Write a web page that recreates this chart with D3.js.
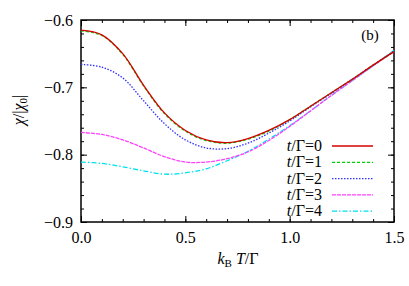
<!DOCTYPE html>
<meta charset="utf-8">
<html>
<script src="https://d3js.org/d3.v7.min.js"></script>
<style>
    body { margin: 0; background: white; }
    text { font-family: "Liberation Serif", "Times New Roman", serif; }
</style>
<body>
<div id="chart"></div>
<script>
    // kBT/Gamma sample points
    var temps = [0.0, 0.1, 0.2, 0.3, 0.4, 0.5, 0.6, 0.7, 0.8, 0.9, 1.0, 1.1, 1.2, 1.3, 1.4, 1.5];
    // chi/|chi0| for each t/Gamma
    var t0 = [-0.615, -0.622, -0.650, -0.697, -0.738, -0.764, -0.778, -0.782, -0.776, -0.764, -0.748, -0.728, -0.708, -0.688, -0.667, -0.647];
    var t1 = [-0.616, -0.623, -0.651, -0.698, -0.739, -0.765, -0.779, -0.783, -0.777, -0.765, -0.748, -0.728, -0.708, -0.688, -0.667, -0.647];
    var t2 = [-0.666, -0.670, -0.686, -0.720, -0.754, -0.778, -0.790, -0.791, -0.783, -0.768, -0.750, -0.729, -0.709, -0.688, -0.667, -0.646];
    var t3 = [-0.767, -0.770, -0.778, -0.790, -0.803, -0.811, -0.811, -0.806, -0.796, -0.779, -0.758, -0.735, -0.712, -0.690, -0.668, -0.647];
    var t4 = [-0.811, -0.813, -0.818, -0.824, -0.829, -0.827, -0.821, -0.809, -0.795, -0.777, -0.757, -0.735, -0.712, -0.690, -0.668, -0.645];
    var labels = ["0", "1", "2", "3", "4"];
    var xTicks = [0.0, 0.5, 1.0, 1.5];
    var yTicks = [-0.6, -0.7, -0.8, -0.9];

    var series = [
        { name: labels[0], values: t0, color: "#d40000", dash: null },
        { name: labels[1], values: t1, color: "#00d000", dash: "3,2" },
        { name: labels[2], values: t2, color: "#3030ff", dash: "1.5,1.5" },
        { name: labels[3], values: t3, color: "#ff40ff", dash: "4,1" },
        { name: labels[4], values: t4, color: "#00e0f0", dash: "5,2,1.5,2" }
    ];

    var margin = { top: 20, right: 15, bottom: 64, left: 81 },
        width = 409 - margin.left - margin.right,
        height = 286 - margin.top - margin.bottom;

    var svg = d3.select("#chart").append("svg")
        .attr("width", 409)
        .attr("height", 286);
    var g = svg.append("g")
        .attr("transform", "translate(" + margin.left + "," + margin.top + ")");

    var x = d3.scaleLinear().domain([0, 1.5]).range([0, width]);
    var y = d3.scaleLinear().domain([-0.9, -0.6]).range([height, 0]);

    // tick marks on all four sides, pointing inward
    var xMinor = d3.range(0, 1.501, 0.1);
    var yMinor = d3.range(-0.9, -0.599, 0.02);
    g.append("g").attr("transform", "translate(0," + height + ")")
        .call(d3.axisBottom(x).tickValues(xMinor).tickSize(-3).tickFormat(""));
    g.append("g").attr("transform", "translate(0," + height + ")")
        .call(d3.axisBottom(x).tickValues(xTicks).tickSize(-6).tickPadding(10).tickFormat(d3.format(".1f")));
    g.append("g")
        .call(d3.axisTop(x).tickValues(xMinor).tickSize(-3).tickFormat(""));
    g.append("g")
        .call(d3.axisTop(x).tickValues(xTicks).tickSize(-6).tickFormat(""));
    g.append("g")
        .call(d3.axisLeft(y).tickValues(yMinor).tickSize(-3).tickFormat(""));
    g.append("g")
        .call(d3.axisLeft(y).tickValues(yTicks).tickSize(-6).tickPadding(8).tickFormat(d3.format(".1f")));
    g.append("g").attr("transform", "translate(" + width + ",0)")
        .call(d3.axisRight(y).tickValues(yMinor).tickSize(-3).tickFormat(""));
    g.append("g").attr("transform", "translate(" + width + ",0)")
        .call(d3.axisRight(y).tickValues(yTicks).tickSize(-6).tickFormat(""));

    g.selectAll(".domain").remove();
    g.selectAll("g").attr("font-family", "Liberation Serif");
    g.selectAll(".tick line").attr("stroke", "#000").attr("stroke-width", 1);
    g.selectAll(".tick text").attr("fill", "#000")
        .style("font-family", "'Liberation Serif', serif").style("font-size", "16px");

    // frame
    g.append("rect")
        .attr("width", width).attr("height", height)
        .attr("fill", "none").attr("stroke", "#000").attr("stroke-width", 1.5);

    // curves
    var line = d3.line()
        .x(function (d, i) { return x(temps[i]); })
        .y(function (d) { return y(d); })
        .curve(d3.curveCatmullRom);

    series.slice().reverse().forEach(function (s) {
        g.append("path")
            .datum(s.values)
            .attr("fill", "none")
            .attr("stroke", s.color)
            .attr("stroke-width", 1.3)
            .attr("stroke-dasharray", s.dash)
            .attr("d", line);
    });

    // legend
    var legend = g.append("g");
    series.forEach(function (s, i) {
        var ly = 126 + i * 16.3;
        var t = legend.append("text")
            .attr("x", 241).attr("y", ly + 5)
            .attr("text-anchor", "end")
            .style("font-size", "16px");
        t.append("tspan").style("font-style", "italic").text("t");
        t.append("tspan").text("/\u0393=" + s.name);
        legend.append("line")
            .attr("x1", 251).attr("x2", 292)
            .attr("y1", ly).attr("y2", ly)
            .attr("stroke", s.color)
            .attr("stroke-width", 1.3)
            .attr("stroke-dasharray", s.dash);
    });

    // panel label
    g.append("text")
        .attr("x", 289).attr("y", 20)
        .attr("text-anchor", "middle")
        .style("font-size", "15px")
        .text("(b)");

    // x axis label
    var xl = svg.append("text")
        .attr("x", 238).attr("y", 264)
        .attr("text-anchor", "middle")
        .style("font-size", "16px");
    xl.append("tspan").style("font-style", "italic").text("k");
    xl.append("tspan").attr("dy", 3).style("font-size", "11px").text("B");
    xl.append("tspan").attr("dy", -3).style("font-style", "italic").text(" T");
    xl.append("tspan").text("/\u0393");

    // y axis label
    var yl = svg.append("text")
        .attr("transform", "translate(24,110) rotate(-90)")
        .attr("text-anchor", "middle")
        .style("font-size", "16px");
    yl.append("tspan").style("font-style", "italic").text("\u03c7");
    yl.append("tspan").text("/|");
    yl.append("tspan").style("font-style", "italic").text("\u03c7");
    yl.append("tspan").attr("dy", 3).style("font-size", "11px").text("0");
    yl.append("tspan").attr("dy", -3).text("|");
</script>
</body>
</html>
